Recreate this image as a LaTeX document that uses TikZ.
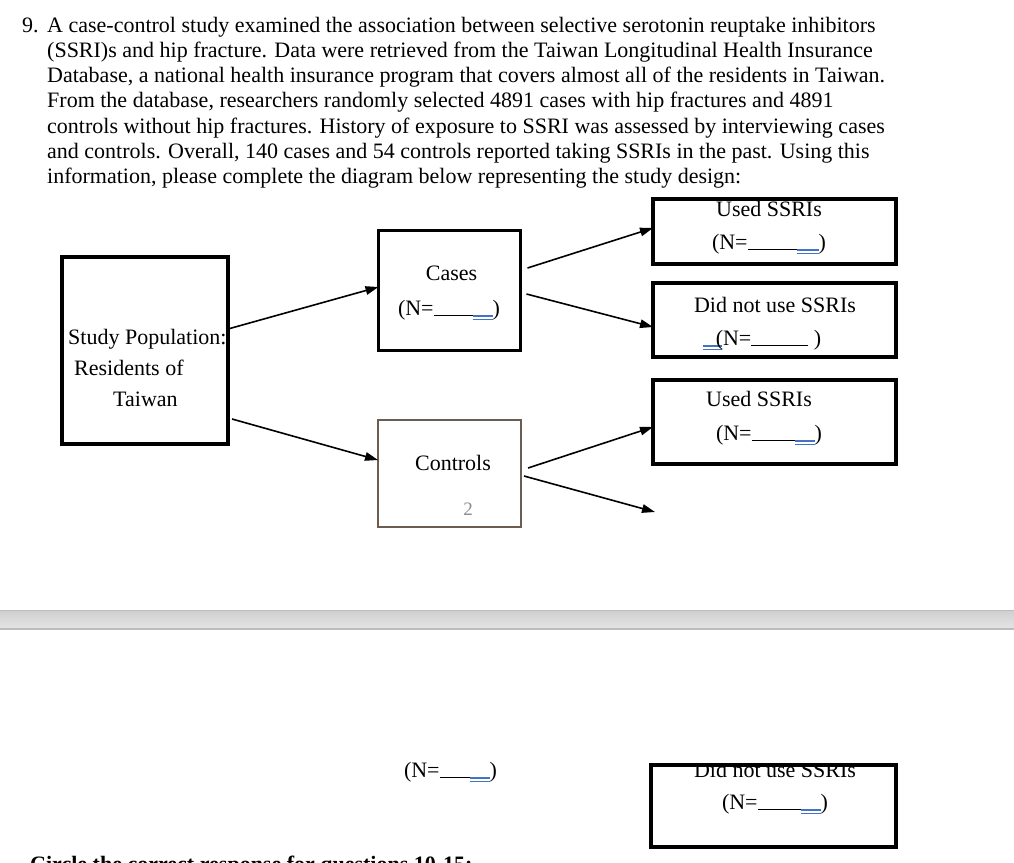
\documentclass[tikz,border=0pt]{standalone}
\usepackage{fontspec}
\setmainfont{Liberation Serif}
\usepackage{xcolor}
\usepackage{tikz}
\usetikzlibrary{arrows.meta}
\definecolor{cInk}{HTML}{000000}
\definecolor{cUnder}{HTML}{4472C4}
\definecolor{cFrame}{HTML}{6B5D52}
\definecolor{cNum}{HTML}{8C8C8C}
\definecolor{cBarHi}{HTML}{CFCFCF}
\definecolor{cBarLo}{HTML}{E2E2E2}
\definecolor{cBarLine}{HTML}{BDBDBD}
\tikzset{
  txt/.style={inner sep=0pt,font=\fontsize{22}{26}\selectfont,text=cInk},
  line/.style={txt,anchor=base west},
  lbl/.style={txt,anchor=base},
  frame/.style={draw=#1,line width=4pt,inner sep=0pt,outer sep=0pt},
  frame/.default=cInk,
  arr/.style={-{Triangle[length=13pt,width=8.5pt]},line width=1.6pt,color=cInk},
}
% blue double underline, black blank
\newcommand{\dblu}[1]{\textcolor{cUnder}{\rlap{\rule[-1.5pt]{#1}{1.1pt}}\rule[-5pt]{#1}{1.1pt}}}
\newcommand{\nblank}[2]{(N=\rule[-1pt]{#1}{0.9pt}\llap{\dblu{#2}})}

\begin{document}
\begin{tikzpicture}[x=1pt,y=-1pt]
  \useasboundingbox (0,0) rectangle (1014,862);
  \clip (0,0) rectangle (1014,862);
  \fill[white] (0,0) rectangle (1014,862);

  % question text
  \node[line] (qnum) at (22,32) {9.};
  \node[line] (q1) at (47,32) {A case-control study examined the association between selective serotonin reuptake inhibitors};
  \node[line] (q2) at (47,57.3) {(SSRI)s and hip fracture. Data were retrieved from the Taiwan Longitudinal Health Insurance};
  \node[line] (q3) at (47,82.6) {Database, a national health insurance program that covers almost all of the residents in Taiwan.};
  \node[line] (q4) at (47,107.9) {From the database, researchers randomly selected 4891 cases with hip fractures and 4891};
  \node[line] (q5) at (47,133.2) {controls without hip fractures. History of exposure to SSRI was assessed by interviewing cases};
  \node[line] (q6) at (47,158.5) {and controls. Overall, 140 cases and 54 controls reported taking SSRIs in the past. Using this};
  \node[line] (q7) at (47,183.8) {information, please complete the diagram below representing the study design:};

  % boxes
  \node[frame,minimum width=166,minimum height=187] (spop) at (145,350.5) {};
  \node[frame,line width=3.4pt,minimum width=142,minimum height=120] (cases) at (449.5,290.5) {};
  \node[frame=cFrame,line width=2.6pt,minimum width=143,minimum height=107] (ctrl) at (449.5,473.5) {};
  \node[frame,minimum width=243,minimum height=65] (useA) at (774.5,231.5) {};
  \node[frame,minimum width=243,minimum height=74] (nouseA) at (774.5,320) {};
  \node[frame,minimum width=243,minimum height=84] (useB) at (774.5,422) {};
  \coordinate (nouseB) at (655,512);

  \node[line] (sp1) at (68,344) {Study Population:};
  \node[line] (sp2) at (74,375) {Residents of};
  \node[line] (sp3) at (113,406) {Taiwan};

  \node[lbl] (casesT) at (451.5,280) {Cases};
  \node[lbl] (casesN) at (449,315) {\nblank{59pt}{20pt}};
  \node[lbl] (ctrlT) at (453,470) {Controls};
  \node[lbl,text=cNum,font=\fontsize{19}{22}\selectfont] (ctrlN) at (468,515) {2};

  \node[lbl] (useAT) at (769,216) {Used SSRIs};
  \node[lbl] (useAN) at (769,249) {\nblank{71pt}{22pt}};
  \node[lbl] (nouseAT) at (775,312) {Did not use SSRIs};
  \node[lbl] (nouseAN) at (762,345) {\dblu{19pt}\kern-6pt(N=\rule[-1pt]{57pt}{0.9pt} )};
  \node[lbl] (useBT) at (759,406) {Used SSRIs};
  \node[lbl] (useBN) at (769,440) {\nblank{63pt}{20pt}};

  % arrows
  \draw[arr] ([yshift=21.5pt]spop.east) -- ([yshift=3.5pt]cases.west);
  \draw[arr] ([xshift=4pt,yshift=-68.5pt]spop.east) -- ([yshift=13.5pt]ctrl.west);
  \draw[arr] ([xshift=7pt,yshift=22.5pt]cases.east) -- ([yshift=3.5pt]useA.west);
  \draw[arr] ([xshift=6pt,yshift=-3.5pt]cases.east) -- ([yshift=-7pt]nouseA.west);
  \draw[arr] ([xshift=7pt,yshift=5.5pt]ctrl.east) -- ([yshift=-5pt]useB.west);
  \draw[arr] ([xshift=3pt,yshift=-2.5pt]ctrl.east) -- (nouseB);

  % page break
  \shade[top color=cBarHi,bottom color=cBarLo] (0,610) rectangle (1014,627);
  \draw[cBarLine,line width=1pt] (0,610.5) -- (1014,610.5);
  \draw[cBarLine,line width=2pt] (0,628.5) -- (1014,628.5);

  % next page
  \node[lbl] (ctrlNb) at (450.5,777) {\nblank{50pt}{20pt}};
  \begin{scope}
    \clip (640,764) rectangle (910,800);
    \node[lbl] (nouseBT) at (775,777) {Did not use SSRIs};
  \end{scope}
  \node[frame,minimum width=245,minimum height=82] (nouseBbox) at (773.5,806) {};
  \node[lbl] (nouseBN) at (775,809) {\nblank{63pt}{20pt}};

  \node[line,font=\fontsize{22}{26}\selectfont\bfseries] (next) at (30,871) {Circle the correct response for questions 10-15:};
\end{tikzpicture}
\end{document}
